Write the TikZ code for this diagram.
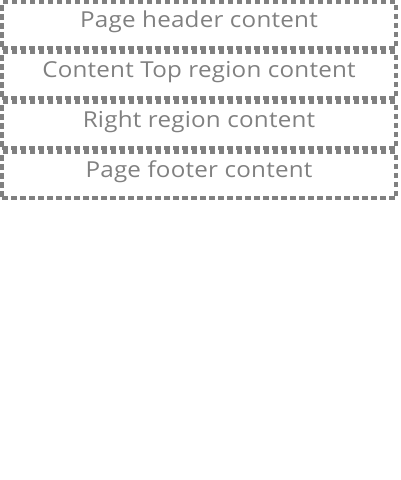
\documentclass[tikz,border=0pt]{standalone}
\usepackage{fontspec}
\setmainfont[FakeStretch=1.1, LetterSpace=1]{Open Sans}
\usetikzlibrary{positioning}

\definecolor{regiongray}{HTML}{808080}

\begin{document}
\begin{tikzpicture}[x=1pt, y=1pt, node distance=0pt]
                \tikzset{region/.style={draw=regiongray, line width=4pt, dash pattern=on 5.5pt off 3.5pt,
                    minimum width=394pt, minimum height=46pt, inner sep=0pt,
                    text=regiongray, font=\fontsize{22}{26}\selectfont,
                    text height=22pt, text depth=18pt}}
                \useasboundingbox (0,0) rectangle (400,-480);

                % REGIONS
                \node[region, anchor=north west] (header) at (0,0) {Page header content};
                \node[region] (contenttop) [below=of header] {Content Top region content};
                \node[region] (right) [below=of contenttop] {Right region content};
                \node[region] (footer) [below=of right] {Page footer content};

            \end{tikzpicture}
\end{document}
